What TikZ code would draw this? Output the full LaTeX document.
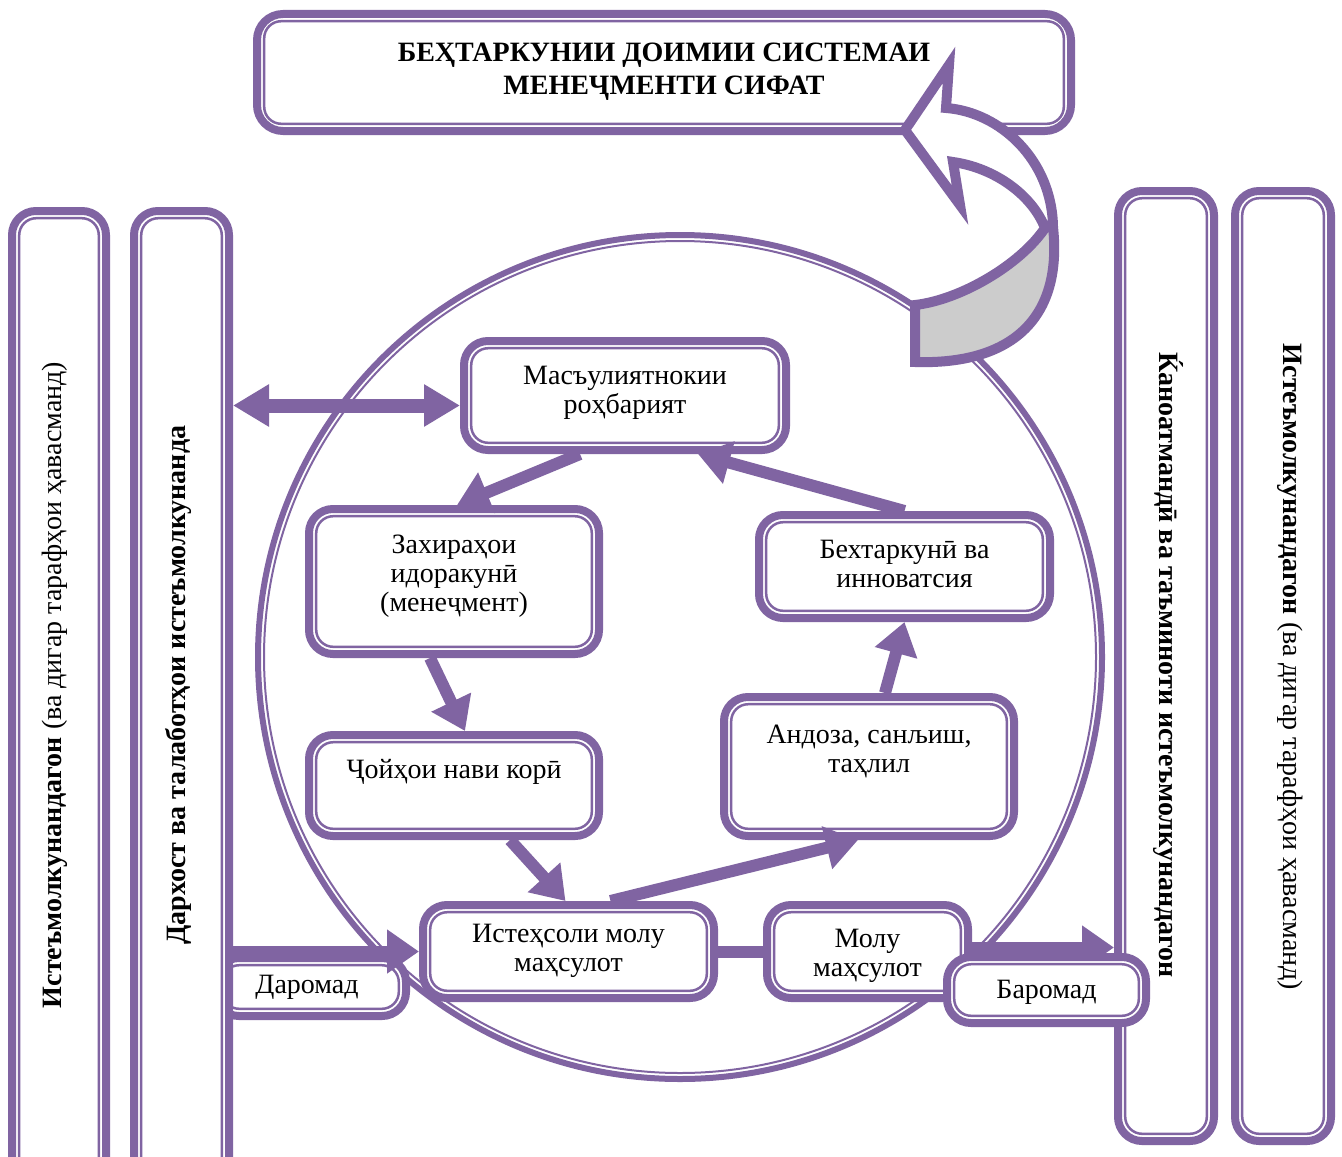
\documentclass[tikz,border=0pt]{standalone}
\usepackage{fontspec}
\setmainfont{Liberation Serif}
\usetikzlibrary{arrows.meta,calc}
\definecolor{pur}{RGB}{128,100,162}
\definecolor{gry}{RGB}{204,204,204}
\newcommand{\bodyfs}{\fontsize{14pt}{14.5pt}\selectfont}
\newcommand{\titlefs}{\fontsize{14pt}{16.5pt}\selectfont\bfseries}
\begin{document}
\begin{tikzpicture}[x=0.5pt,y=-0.5pt,
  dbox/.style={draw=pur, line width=4pt, rounded corners=12pt, fill=white, inner sep=0pt,
    path picture={\draw[pur, fill=none, line width=1.25pt, rounded corners=8.5pt]
      ([shift={(3.6pt,-3.6pt)}]path picture bounding box.north west) rectangle
      ([shift={(-3.6pt,3.6pt)}]path picture bounding box.south east);}},
  txt/.style={align=center, inner sep=0pt, font=\bodyfs},
  arr/.style={draw=pur, line width=6pt, line cap=butt, -{Triangle[length=16pt,width=21pt]}},
  darr/.style={draw=pur, line width=7pt, line cap=butt, {Triangle[length=18pt,width=20pt]}-{Triangle[length=18pt,width=20pt]}},
  link/.style={draw=pur, line width=6pt, line cap=butt}
]
\useasboundingbox (0,0) rectangle (1342,1156);
\clip (0,0) rectangle (1342,1156);
\fill[white] (0,0) rectangle (1342,1156);

% circle
\draw[pur, line width=3pt] (680,657) circle[radius=211pt];
\draw[pur, line width=1pt] (680,657) circle[radius=208pt];

% title box
\node[dbox, rounded corners=13pt, minimum width=407pt, minimum height=58.5pt] (title) at (664,72.5) {};
\node[txt, font=\titlefs] (t-title) at (664,72) {БЕҲТАРКУНИИ ДОИМИИ СИСТЕМАИ\\МЕНЕҶМЕНТИ СИФАТ};

% big curved 3D arrow
\path[fill=white] (905,130) -- (949,65) -- (946,108)
  .. controls (1000,112) and (1052,160) .. (1053,227)
  .. controls (1063,320) and (1010,365) .. (915,362)
  -- (915,305)
  .. controls (960,300) and (1020,265) .. (1045,228)
  .. controls (1032,195) and (995,168) .. (953,162)
  -- (960,205) -- cycle;
\fill[gry] (915,305) .. controls (960,300) and (1020,265) .. (1045,228)
  -- (1053,227) .. controls (1063,320) and (1010,365) .. (915,362) -- cycle;
\draw[pur, line width=5pt, line join=miter] (905,130) -- (949,65) -- (946,108)
  .. controls (1000,112) and (1052,160) .. (1053,227)
  .. controls (1063,320) and (1010,365) .. (915,362)
  -- (915,305)
  .. controls (960,300) and (1020,265) .. (1045,228)
  .. controls (1032,195) and (995,168) .. (953,162)
  -- (960,205) -- cycle;

% side panels
\node[dbox, minimum width=48pt, minimum height=475pt] (r1) at (1166,666) {};
\node[dbox, minimum width=48pt, minimum height=475pt] (r2) at (1283,666) {};
\node[dbox, minimum width=47pt, minimum height=490pt] (l1) at (59,701) {};
\node[txt, rotate=-90] (t-r1) at (1168,665) {\textbf{Ќаноатмандӣ ва таъминоти истеъмолкунандагон}};
\node[txt, rotate=-90] (t-r2) at (1290,667) {\textbf{Истеъмолкунандагон} (ва дигар тарафҳои ҳавасманд)};
\node[txt, rotate=90] (t-l1) at (55,685) {\textbf{Истеъмолкунандагон} (ва дигар тарафҳои ҳавасманд)};

% Daromad box (behind panel l2)
\node[dbox, minimum width=95.5pt, minimum height=29pt] (dar) at (310.5,987) {};
\node[txt] (t-dar) at (307,987.5) {Даромад};

\node[dbox, minimum width=47.5pt, minimum height=490pt] (l2) at (181.5,701) {};
\node[txt, rotate=90] (t-l2) at (178,685) {\textbf{Дархост ва талаботҳои истеъмолкунанда}};

% inner boxes
\node[dbox, minimum width=161pt, minimum height=54.5pt] (mas) at (625,395.5) {};
\node[txt] (t-mas) at (625,392.5) {Масъулиятнокии\\роҳбарият};

\node[dbox, minimum width=145pt, minimum height=72.5pt] (zax) at (454,581.5) {};
\node[txt] (t-zax) at (454,576.5) {Захираҳои\\идоракунӣ\\(менеҷмент)};

\node[dbox, minimum width=145.5pt, minimum height=51.5pt] (beh) at (904.5,566.5) {};
\node[txt] (t-beh) at (904.5,564) {Бехтаркунӣ ва\\инноватсия};

\node[dbox, minimum width=145pt, minimum height=50.5pt] (joy) at (454,785.5) {};
\node[txt] (t-joy) at (454,772) {Ҷойҳои нави корӣ};

\node[dbox, minimum width=145pt, minimum height=69.5pt] (and) at (869,766.5) {};
\node[txt] (t-and) at (869,751.5) {Андоза, санљиш,\\таҳлил};

\node[dbox, minimum width=145.5pt, minimum height=46.5pt] (ist) at (568.5,951.5) {};
\node[txt] (t-ist) at (568.5,951) {Истеҳсоли молу\\маҳсулот};

\node[dbox, minimum width=100.5pt, minimum height=46.5pt] (molu) at (867.5,951.5) {};
\node[txt] (t-molu) at (867.5,955.5) {Молу\\маҳсулот};

% connectors
\coordinate (aR) at ($(mas.west)+(0,10)$);
\draw[darr] (l2.east |- aR) -- (aR);
\draw[arr] ($(mas.south)+(-45,0)$) -- ($(zax.north)+(3,0)$);
\draw[arr] (beh.north) -- ($(mas.south)+(73,0)$);
\draw[arr] ($(zax.south)+(-24,0)$) -- ($(joy.north)+(11,0)$);
\draw[arr] ($(joy.south)+(56,0)$) -- ($(ist.north)+(-3,0)$);
\draw[arr] ($(ist.north)+(42,0)$) -- ($(and.south)+(-11,0)$);
\draw[arr] ($(and.north)+(16,0)$) -- (beh.south);
\draw[arr] (l2.east |- ist.west) -- (ist.west);
\draw[link] (ist.east) -- (molu.west);
\coordinate (jL) at ($(molu.east)+(0,-4)$);
\draw[arr] (jL) -- (r1.west |- jL);

% Baromad box (on top)
\node[dbox, minimum width=99.5pt, minimum height=33pt] (bar) at (1046.5,990) {};
\node[txt] (t-bar) at (1046.5,992.5) {Баромад};
\end{tikzpicture}
\end{document}
